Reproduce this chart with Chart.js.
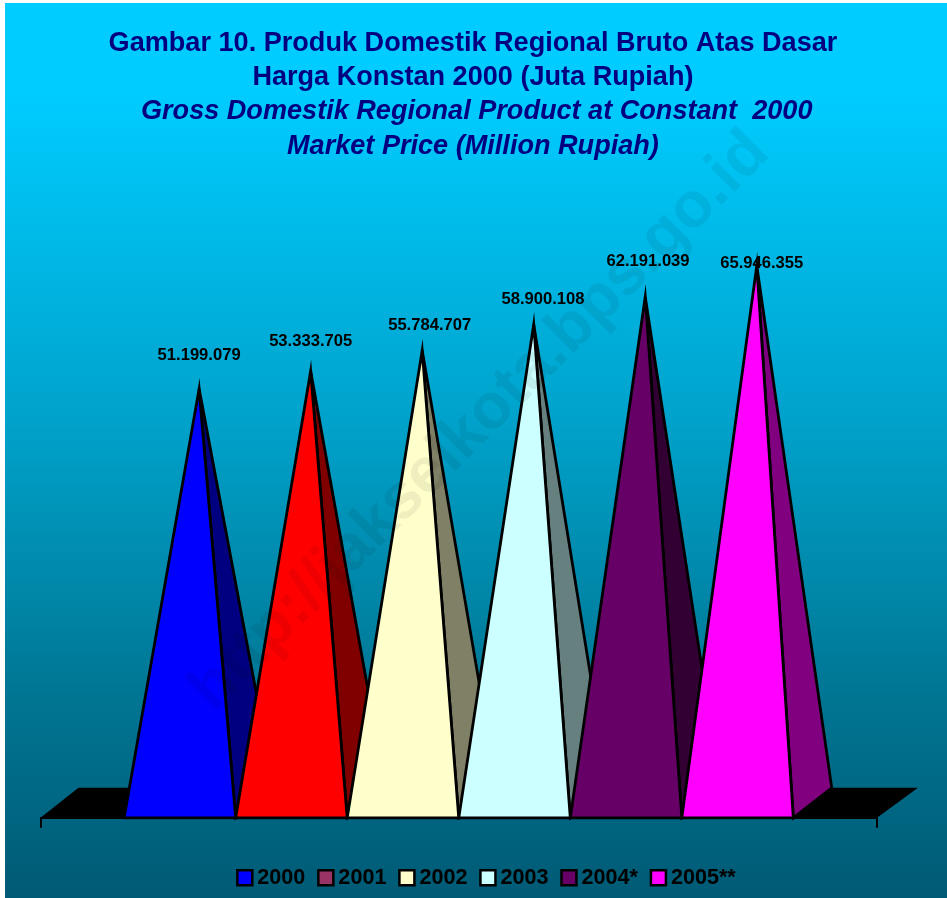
<!DOCTYPE html>
<html>
<head>
<meta charset="utf-8">
<title>Gambar 10</title>
<style>
html,body{margin:0;padding:0;background:#fff;}
canvas{display:block;}
</style>
<script src="https://cdn.jsdelivr.net/npm/chart.js@4"></script>
</head>
<body>
<canvas id="c" width="947" height="898"></canvas>
<script>
const categories = [''];
const years = ['2000', '2001', '2002', '2003', '2004*', '2005**'];
const values = [51199079, 53333705, 55784707, 58900108, 62191039, 65946355];
const valueLabels = ['51.199.079', '53.333.705', '55.784.707', '58.900.108', '62.191.039', '65.946.355'];
const frontColors = ['#0000FF', '#FF0000', '#FFFFCC', '#CCFFFF', '#660066', '#FF00FF'];
const sideColors = ['#000080', '#800000', '#808066', '#668080', '#330033', '#800080'];
const legendColors = ['#0000FF', '#993366', '#FFFFCC', '#CCFFFF', '#660066', '#FF00FF'];
const titleLines = ['Gambar 10. Produk Domestik Regional Bruto Atas Dasar', 'Harga Konstan 2000 (Juta Rupiah)'];
const subtitleLines = [' Gross Domestik Regional Product at Constant  2000', 'Market Price (Million Rupiah)'];
const watermark = 'http://jakselkota.bps.go.id';

const FONT = '"Liberation Sans", Arial, sans-serif';
const depthX = 38.4, depthY = 30;
const labelNudgeX = [0, 0, 7.5, 9.3, 2.8, 5];
const labelNudgeY = [-33, -30, -25, -24.6, -35.6, -2.6];

const backdrop = {
  id: 'backdrop',
  beforeDraw(chart) {
    const { ctx, width, height } = chart;
    const g = ctx.createLinearGradient(0, 3, 0, height);
    g.addColorStop(0, '#00CCFF');
    g.addColorStop(0.1, '#00CCFF');
    g.addColorStop(0.46, '#00A3CC');
    g.addColorStop(0.78, '#007592');
    g.addColorStop(1, '#005A75');
    ctx.save();
    ctx.fillStyle = g;
    ctx.fillRect(5, 3, width - 5, height - 3);
    ctx.restore();
  }
};

const blockPlace = {
  id: 'blockPlace',
  afterLayout(chart) {
    const l = chart.legend;
    l.top += 20.4;
    l.bottom += 20.4;
    l.left += 30.7;
    l.right += 30.7;
    chart.boxes.filter(b => b.options && b.options.text).forEach(b => {
      b.left += 14.2;
      b.right += 14.2;
    });
  }
};

function apexOf(bar) {
  return { x: bar.x + depthX / 2, y: bar.y - depthY / 2 };
}

function drawPyramid(chart, index) {
  const { ctx, chartArea: a } = chart;
  const bar = chart.getDatasetMeta(index).data[0];
  const left = bar.x - bar.width / 2, right = bar.x + bar.width / 2, base = a.bottom;
  const apex = apexOf(bar);
  ctx.save();
  ctx.lineWidth = 2.8;
  ctx.strokeStyle = '#000';
  ctx.lineJoin = 'miter';
  ctx.beginPath();
  ctx.moveTo(right, base);
  ctx.lineTo(right + depthX, base - depthY);
  ctx.lineTo(apex.x, apex.y);
  ctx.closePath();
  ctx.fillStyle = sideColors[index];
  ctx.fill();
  ctx.stroke();
  ctx.beginPath();
  ctx.moveTo(left, base);
  ctx.lineTo(right, base);
  ctx.lineTo(apex.x, apex.y);
  ctx.closePath();
  ctx.fillStyle = frontColors[index];
  ctx.fill();
  ctx.stroke();
  ctx.restore();
}

const pyramids = {
  id: 'pyramids',
  beforeDatasetsDraw(chart) {
    const { ctx, chartArea: a } = chart;
    ctx.save();
    ctx.fillStyle = '#000';
    ctx.beginPath();
    ctx.moveTo(a.left, a.bottom);
    ctx.lineTo(a.left + 38, a.bottom - depthY);
    ctx.lineTo(a.right + 41, a.bottom - depthY);
    ctx.lineTo(a.right, a.bottom);
    ctx.closePath();
    ctx.fill();
    ctx.restore();
    years.forEach((y, i) => drawPyramid(chart, i));
  },
  beforeDatasetDraw() {
    return false;
  },
  afterDatasetsDraw(chart) {
    const { ctx } = chart;
    ctx.save();
    ctx.font = 'bold 16.6px ' + FONT;
    ctx.fillStyle = '#000';
    ctx.textAlign = 'center';
    ctx.textBaseline = 'middle';
    valueLabels.forEach((text, i) => {
      const apex = apexOf(chart.getDatasetMeta(i).data[0]);
      ctx.fillText(text, apex.x + labelNudgeX[i], apex.y + labelNudgeY[i]);
    });
    ctx.restore();
  },
  afterDraw(chart) {
    const { ctx } = chart;
    ctx.save();
    ctx.translate(492.5, 434);
    ctx.rotate(-45 * Math.PI / 180);
    ctx.font = 'bold 64px ' + FONT;
    ctx.fillStyle = 'rgba(0,0,0,0.065)';
    ctx.textAlign = 'center';
    ctx.textBaseline = 'alphabetic';
    ctx.fillText(watermark, 0, 0);
    ctx.restore();
  }
};

new Chart(document.getElementById('c'), {
  type: 'bar',
  data: {
    labels: categories,
    datasets: years.map((y, i) => ({
      label: y,
      data: [values[i]],
      backgroundColor: frontColors[i],
      categoryPercentage: 0.8,
      barPercentage: 1
    }))
  },
  plugins: [backdrop, blockPlace, pyramids],
  options: {
    responsive: false,
    animation: false,
    layout: { padding: { left: 40.5, right: 70, top: 0, bottom: 19.8 } },
    scales: {
      x: {
        grid: { drawOnChartArea: false, drawTicks: true, tickLength: 10, color: '#000', lineWidth: 2 },
        border: { display: true, color: '#000', width: 2 },
        ticks: { display: false }
      },
      y: { display: false, min: 1600000, max: 80000000 }
    },
    plugins: {
      title: {
        display: true,
        text: titleLines,
        color: '#000080',
        font: { family: FONT, size: 27.1, weight: 'bold', lineHeight: 1.267 },
        padding: { top: 26, bottom: 0 }
      },
      subtitle: {
        display: true,
        text: subtitleLines,
        color: '#000080',
        font: { family: FONT, size: 27.1, weight: 'bold', style: 'italic', lineHeight: 1.267 },
        padding: { top: 0, bottom: 0 }
      },
      legend: {
        display: true,
        position: 'bottom',
        labels: {
          usePointStyle: true,
          boxWidth: 3.4,
          boxHeight: 15,
          padding: 18.8,
          color: '#000',
          font: { family: FONT, size: 21.6, weight: 'bold' },
          generateLabels: () => years.map((y, i) => ({
            text: y,
            fillStyle: legendColors[i],
            strokeStyle: '#000',
            lineWidth: 2.5,
            pointStyle: 'rect',
            datasetIndex: i
          }))
        }
      },
      tooltip: { enabled: false }
    }
  }
});
</script>
</body>
</html>
